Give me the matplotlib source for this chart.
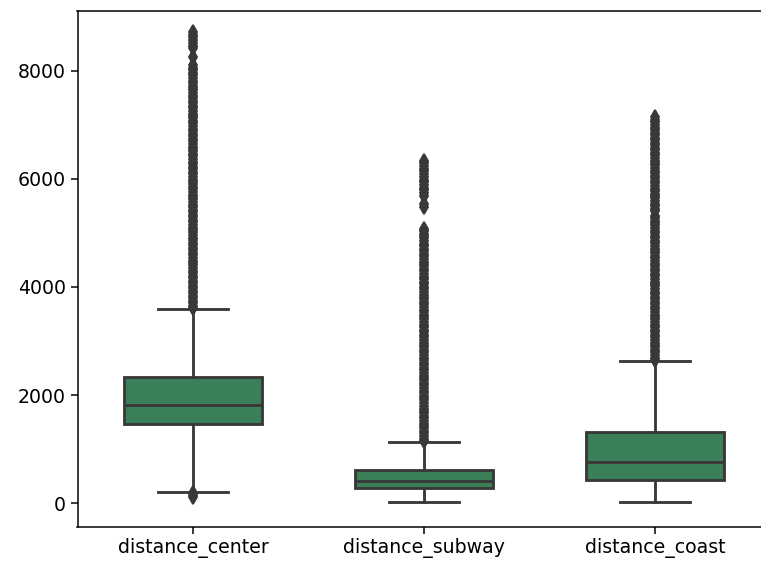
import matplotlib
matplotlib.use("Agg")
from matplotlib import pyplot as plt

# categories and box statistics
labels = ["distance_center", "distance_subway", "distance_coast"]
q1 = [1455, 272, 426]
medians = [1820, 413, 765]
q3 = [2330, 611, 1309]
whis_lo = [204, 12, 12]
whis_hi = [3600, 1130, 2630]

center_fliers = [120, 150, 180,
                 3610, 3650, 3700, 3740, 3790, 3840, 3880, 3930, 3980, 4020,
                 4070, 4120, 4160, 4210, 4260, 4300, 4350, 4400, 4450, 4490,
                 4540, 4590, 4630, 4680, 4730, 4770, 4820, 4870, 4910, 4960,
                 5010, 5050, 5100, 5150, 5200, 5240, 5290, 5340, 5380, 5430,
                 5480, 5520, 5570, 5620, 5660, 5710, 5760, 5810, 5850, 5900,
                 5950, 5990, 6040, 6090, 6130, 6180, 6230, 6270, 6320, 6370,
                 6420, 6460, 6510, 6560, 6600, 6650, 6700, 6740, 6790, 6840,
                 6880, 6930, 6980, 7030, 7070, 7120, 7170, 7210, 7260, 7310,
                 7350, 7400, 7450, 7490, 7540, 7590, 7640, 7680, 7730, 7780,
                 7820, 7870, 7920, 7960, 8010, 8060, 8110,
                 8250, 8420, 8470, 8520, 8570, 8620, 8670, 8720]
subway_fliers = [1150, 1190, 1240, 1290, 1330, 1380, 1430, 1470, 1520, 1570,
                 1610, 1660, 1710, 1750, 1800, 1850, 1900, 1940, 1990, 2040,
                 2080, 2130, 2180, 2220, 2270, 2320, 2360, 2410, 2460, 2500,
                 2550, 2600, 2650, 2690, 2740, 2790, 2830, 2880, 2930, 2970,
                 3020, 3070, 3110, 3160, 3210, 3250, 3300, 3350, 3400, 3440,
                 3490, 3540, 3580, 3630, 3680, 3720, 3770, 3820, 3860, 3910,
                 3960, 4000, 4050, 4100, 4150, 4190, 4240, 4290, 4330, 4380,
                 4430, 4470, 4520, 4570, 4610, 4660, 4710, 4750, 4800, 4850,
                 4900, 4940, 4990, 5030, 5070,
                 5480, 5530, 5690, 5740, 5790, 5840, 5890, 5940, 5990, 6040,
                 6090, 6140, 6190, 6240, 6290, 6330]
coast_fliers = [2650, 2690, 2740, 2790, 2830, 2880, 2930, 2970, 3020, 3070,
                3120, 3160, 3210, 3260, 3300, 3350, 3400, 3440, 3490, 3540,
                3590, 3630, 3680, 3730, 3770, 3820, 3870, 3910, 3960, 4010,
                4060, 4100, 4150, 4200, 4240, 4290, 4340, 4380, 4430, 4480,
                4530, 4570, 4620, 4670, 4710, 4760, 4810, 4850, 4900, 4950,
                5000, 5040, 5090, 5140, 5180, 5230, 5280, 5320, 5400, 5450,
                5500, 5540, 5590, 5640, 5680, 5730, 5780, 5820, 5870, 5920,
                5970, 6010, 6060, 6110, 6150, 6200, 6250, 6290, 6340, 6390,
                6440, 6480, 6530, 6580, 6620, 6670, 6720, 6760, 6810, 6860,
                6910, 6950, 7000, 7050, 7090, 7140]
fliers = [center_fliers, subway_fliers, coast_fliers]

scale = 1.36
box_color = "#3a7f58"
line_color = "#383838"
lw = 1.5 * scale

plt.rcParams["font.size"] = 10 * scale

fig = plt.figure(figsize=(7.61, 5.64), dpi=100)
# axes run past the right edge, as in the cropped reference
ax = fig.add_axes([77.5 / 761, 37 / 564, 693 / 761, 516 / 564])

stats = []
for i, name in enumerate(labels):
    stats.append({
        "label": name,
        "q1": q1[i], "med": medians[i], "q3": q3[i],
        "whislo": whis_lo[i], "whishi": whis_hi[i],
        "fliers": fliers[i],
    })

ax.bxp(stats, positions=range(len(labels)), widths=0.6, patch_artist=True,
       boxprops=dict(facecolor=box_color, edgecolor=line_color, linewidth=lw),
       medianprops=dict(color=line_color, linewidth=lw),
       whiskerprops=dict(color=line_color, linewidth=lw),
       capprops=dict(color=line_color, linewidth=lw),
       flierprops=dict(marker="d", markersize=5 * scale,
                       markerfacecolor=line_color, markeredgecolor=line_color,
                       markeredgewidth=1.0 * scale))

ax.set_xlim(-0.5, 2.5)
ax.set_ylim(-444, 9110)
ax.set_yticks([0, 2000, 4000, 6000, 8000])
ax.tick_params(length=3.5 * scale, width=0.8 * scale)
for s in ax.spines.values():
    s.set_linewidth(0.8 * scale)
ax.spines["right"].set_visible(False)

fig.savefig("out.png", dpi=100)
